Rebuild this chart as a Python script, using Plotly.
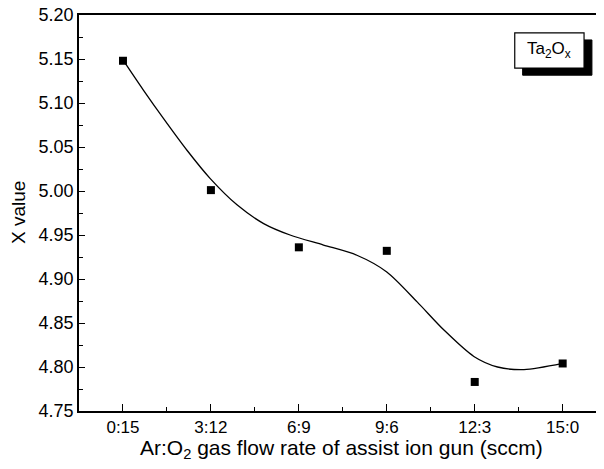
import plotly.graph_objects as go

categories = ["0:15", "3:12", "6:9", "9:6", "12:3", "15:0"]
x_values = [5.148, 5.001, 4.936, 4.932, 4.783, 4.804]

# smooth fitted curve (position in category units, value)
curve_pos = [0.0, 0.23, 0.46, 0.73, 0.99, 1.30, 1.60, 1.90, 2.28, 2.66, 3.00,
             3.345, 3.65, 3.99, 4.26, 4.56, 5.0]
curve_val = [5.149, 5.115, 5.0825, 5.046, 5.0144, 4.984, 4.963, 4.950, 4.9386,
             4.927, 4.908, 4.874, 4.842, 4.812, 4.800, 4.797, 4.804]

y_ticks = [4.75, 4.80, 4.85, 4.90, 4.95, 5.00, 5.05, 5.10, 5.15, 5.20]

idx = list(range(len(categories)))
FONT = "Liberation Sans"

fig = go.Figure()
fig.add_trace(go.Scatter(x=curve_pos, y=curve_val, mode="lines",
                         line=dict(color="black", width=1.3, shape="spline", smoothing=0.8),
                         showlegend=False, hoverinfo="skip"))
fig.add_trace(go.Scatter(x=idx, y=x_values, mode="markers",
                         marker=dict(symbol="square", size=8, color="black"),
                         showlegend=False))

# label box with shadow
bx0, bx1, by0, by1 = 0.830, 0.962, 0.866, 0.955
dx, dy = 0.015, 0.018
fig.add_shape(type="rect", xref="paper", yref="paper",
              x0=bx0 + dx, x1=bx1 + dx, y0=by0 - dy, y1=by1 - dy,
              fillcolor="black", line=dict(color="black", width=1))
fig.add_shape(type="rect", xref="paper", yref="paper",
              x0=bx0, x1=bx1, y0=by0, y1=by1,
              fillcolor="white", line=dict(color="black", width=1.2))
fig.add_annotation(xref="paper", yref="paper", x=(bx0 + bx1) / 2, y=(by0 + by1) / 2,
                   text="Ta<sub>2</sub>O<sub>x</sub>", showarrow=False,
                   font=dict(family=FONT, size=17, color="black"),
                   xanchor="center", yanchor="middle")

# axis titles
fig.add_annotation(xref="paper", yref="paper", x=0.5, y=0, yshift=-38,
                   text="Ar:O<sub>2</sub> gas flow rate of assist ion gun (sccm)",
                   showarrow=False, xanchor="center", yanchor="middle",
                   font=dict(family=FONT, size=21, color="black"))
fig.add_annotation(xref="paper", yref="paper", x=0, xshift=-61, y=0.5,
                   text="X value", textangle=-90,
                   showarrow=False, xanchor="center", yanchor="middle",
                   font=dict(family=FONT, size=19, color="black"))

# page body has an 8px margin, so the figure is sized/offset to compensate
fig.update_layout(
    width=596, height=461,
    margin=dict(l=71, r=0, t=7, b=58),
    paper_bgcolor="white", plot_bgcolor="white",
    font=dict(family=FONT, color="black"),
    xaxis=dict(range=[-0.5, 5.47], tickmode="array", tickvals=idx, ticktext=categories,
               ticks="inside", ticklen=7, tickwidth=1.2, tickcolor="black",
               minor=dict(tickmode="array", tickvals=[0.5, 1.5, 2.5, 3.5, 4.5],
                          ticks="inside", ticklen=4, tickcolor="black", tickwidth=1),
               showline=True, linecolor="black", linewidth=1.5, mirror=True,
               showgrid=False, zeroline=False, automargin=False,
               ticklabeloverflow="allow",
               tickfont=dict(size=17, family=FONT)),
    yaxis=dict(range=[4.75, 5.20], tickmode="array", tickvals=y_ticks,
               ticktext=[f"{v:.2f}" for v in y_ticks],
               ticks="inside", ticklen=6, tickwidth=1.2, tickcolor="black",
               minor=dict(tickmode="array",
                          tickvals=[4.775, 4.825, 4.875, 4.925, 4.975, 5.025, 5.075, 5.125, 5.175],
                          ticks="inside", ticklen=4, tickcolor="black", tickwidth=1),
               showline=True, linecolor="black", linewidth=1.5, mirror=False,
               showgrid=False, zeroline=False, automargin=False,
               ticklabeloverflow="allow",
               tickfont=dict(size=18, family=FONT)),
)

fig.write_html("out.html")
